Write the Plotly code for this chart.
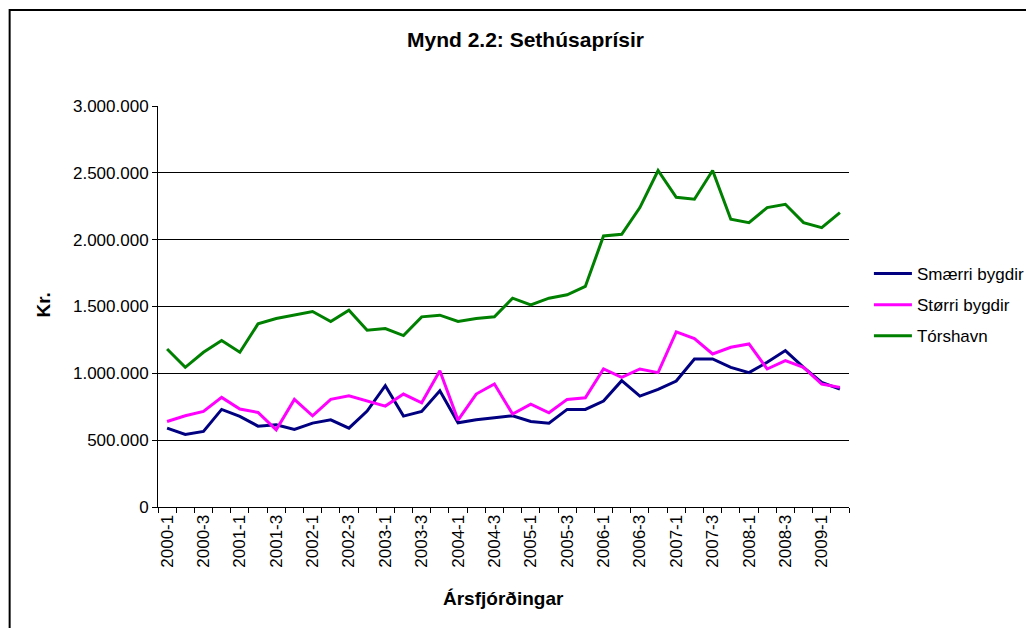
import plotly.graph_objects as go

quarters = [f"{y}-{q}" for y in range(2000, 2010) for q in range(1, 5)][:38]

smaerri_bygdir = [590000, 542500, 565000, 730000, 677500, 605000, 615000, 580000, 627500, 652500,
                  590000, 717500, 907500, 680000, 715000, 870000, 630000, 652500, 667500, 682500,
                  640000, 627500, 730000, 730000, 792500, 945000, 830000, 880000, 942500, 1107500,
                  1107500, 1045000, 1005000, 1082500, 1170000, 1045000, 932500, 882500]

storri_bygdir = [640000, 682500, 715000, 820000, 732500, 707500, 577500, 805000, 682500, 805000,
                 832500, 795000, 755000, 845000, 780000, 1020000, 650000, 845000, 920000, 695000,
                 770000, 705000, 805000, 817500, 1032500, 970000, 1032500, 1005000, 1310000, 1260000,
                 1145000, 1195000, 1220000, 1032500, 1095000, 1045000, 920000, 895000]

torshavn = [1182500, 1045000, 1157500, 1245000, 1157500, 1370000, 1410000, 1437500, 1462500, 1387500,
            1472500, 1322500, 1335000, 1282500, 1422500, 1435000, 1387500, 1410000, 1422500, 1562500,
            1512500, 1562500, 1587500, 1650000, 2027500, 2040000, 2240000, 2517500, 2317500, 2302500,
            2517500, 2152500, 2127500, 2240000, 2265000, 2127500, 2090000, 2202500]

series_names = ["Smærri bygdir", "Størri bygdir", "Tórshavn"]
series_colors = ["#000080", "#FF00FF", "#008000"]
series_values = [smaerri_bygdir, storri_bygdir, torshavn]

title_text = "Mynd 2.2: Sethúsaprísir"
x_title = "Ársfjórðingar"
y_title = "Kr."

FONT = "Liberation Sans, Arial, sans-serif"

x_idx = list(range(len(quarters)))

fig = go.Figure()
for name, color, vals in zip(series_names, series_colors, series_values):
    fig.add_trace(go.Scatter(x=x_idx, y=vals, mode="lines", name=name, legendgroup=name,
                             line=dict(color=color, width=3)))

W, H = 1034, 628
OFF = 8  # page body margin offset
# plot area in reference pixel coordinates
PL, PR, PT, PB = 158, 852, 106, 507
L = PL - OFF
T = PT - OFF
R = W - (PR - OFF)
B = H - (PB - OFF)
pw, ph = PR - PL, PB - PT


def px(x):
    return (x - PL) / pw


def py(y):
    return (PB - y) / ph


fig.update_layout(
    width=W, height=H,
    margin=dict(l=L, r=R, t=T, b=B, pad=0),
    paper_bgcolor="white", plot_bgcolor="white",
    separators=",.",
    font=dict(family=FONT, size=17, color="black"),
    showlegend=True,
    legend=dict(x=px(872), y=py(256), xanchor="left", yanchor="top",
                font=dict(family=FONT, size=17, color="black"),
                traceorder="grouped", tracegroupgap=6,
                bgcolor="rgba(0,0,0,0)", itemwidth=38),
    xaxis=dict(range=[-0.5, len(quarters) - 0.5], tickmode="array",
               tickvals=x_idx[::2], ticktext=quarters[::2], tickangle=-90,
               ticks="", showgrid=False, zeroline=False,
               showline=True, linecolor="black", linewidth=1,
               tickfont=dict(family=FONT, size=17, color="black"),
               minor=dict(tickmode="linear", tick0=-0.5, dtick=1, ticks="outside",
                          ticklen=5, tickcolor="black", tickwidth=1, showgrid=False)),
    yaxis=dict(range=[0, 3000000], dtick=500000, tick0=0, tickformat=",d",
               showgrid=True, gridcolor="black", gridwidth=1, zeroline=False,
               showline=True, linecolor="black", linewidth=1,
               ticks="outside", ticklen=5, tickcolor="black",
               tickfont=dict(family=FONT, size=17, color="black")),
    annotations=[
        dict(text=f"<b>{title_text}</b>", x=px(527), y=py(39), xref="paper", yref="paper",
             showarrow=False, xanchor="center", yanchor="middle",
             font=dict(family=FONT, size=21, color="black")),
        dict(text=f"<b>{x_title}</b>", x=px(505), y=py(598), xref="paper", yref="paper",
             showarrow=False, xanchor="center", yanchor="middle",
             font=dict(family=FONT, size=19, color="black")),
        dict(text=f"<b>{y_title}</b>", x=px(42), y=py(305), xref="paper", yref="paper",
             showarrow=False, xanchor="center", yanchor="middle", textangle=-90,
             font=dict(family=FONT, size=19, color="black")),
    ],
    shapes=[
        dict(type="line", xref="paper", yref="paper", x0=px(9), x1=px(1060), y0=py(10), y1=py(10),
             line=dict(color="black", width=2)),
        dict(type="line", xref="paper", yref="paper", x0=px(9), x1=px(9), y0=py(9), y1=py(650),
             line=dict(color="black", width=2)),
    ],
)

fig.write_html("out.html")
